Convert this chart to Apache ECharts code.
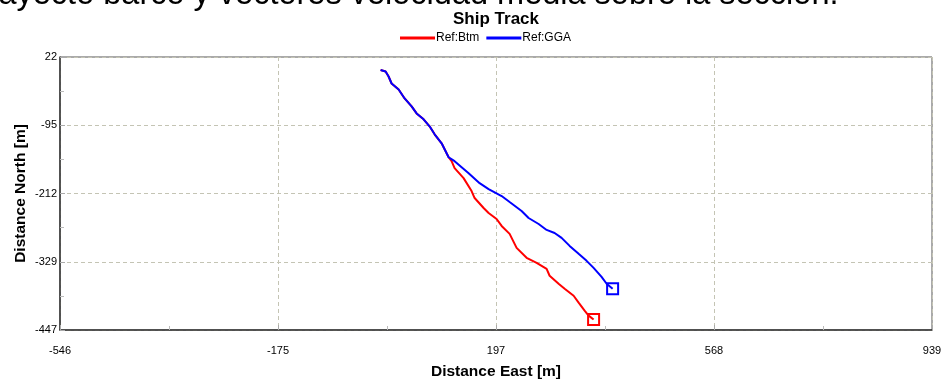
<!DOCTYPE html>
<html>
<head>
<meta charset="utf-8">
<script src="https://cdn.jsdelivr.net/npm/echarts@6/dist/echarts.min.js"></script>
<style>
html,body{margin:0;padding:0;background:#fff;}
#chart{width:946px;height:383px;}
</style>
</head>
<body>
<div id="chart"></div>
<script>
// Tick labels as printed on the axes
const xTickLabels = ['-546', '-175', '197', '568', '939'];
const yTickLabels = ['-447', '-329', '-212', '-95', '22'];

// Axis extents (data units)
const xExtent = [-546, 939];
const yExtent = [-446.6, 22.4];

// Series names
const seriesNames = ['Ref:Btm', 'Ref:GGA'];

// Ref:Btm track (East, North) in metres
const btmEast = [0, 8.5, 13.6, 18.7, 30.7, 40.9, 52.8, 61.3, 73.2, 83.4, 92.0, 103.9, 112.4, 115.8,
  120.9, 126.0, 141.3, 154.9, 160.1, 175.4, 183.9, 197.5, 206.1, 219.7, 231.6, 248.6, 265.7, 282.7,
  287.8, 303.1, 313.4, 328.7, 337.2, 347.4, 354.2, 362.7];
const btmNorth = [0, -2.6, -11.1, -23.1, -33.4, -48.8, -62.5, -74.5, -84.7, -96.7, -110.4, -125.8, -142.9, -149.8,
  -156.6, -168.6, -185.7, -207.9, -219.9, -237.0, -245.6, -255.9, -267.8, -281.5, -305.5, -322.6, -331.2, -341.5,
  -353.4, -367.1, -375.7, -387.7, -399.6, -413.3, -421.9, -428.7];

// Ref:GGA track (East, North) in metres
const ggaEast = [0, 8.5, 13.6, 18.7, 30.7, 40.9, 52.8, 61.3, 73.2, 83.4, 92.0, 103.9, 112.4, 115.8,
  126.0, 149.9, 168.6, 183.9, 206.1, 219.7, 240.1, 252.0, 269.1, 282.7, 296.3, 308.2, 321.9, 337.2,
  350.8, 362.7, 376.3, 384.9, 395.1];
const ggaNorth = [0, -2.6, -11.1, -23.1, -33.4, -48.8, -62.5, -74.5, -84.7, -96.7, -110.4, -125.8, -142.9, -149.8,
  -156.6, -177.2, -194.3, -204.5, -216.5, -226.8, -242.2, -254.2, -264.5, -274.7, -279.9, -288.4, -302.1, -315.8,
  -327.8, -339.8, -355.2, -367.1, -375.7];

const colors = ['#ff0000', '#0000ff'];

function buildData(east, north, color) {
  return east.map(function (e, i) {
    if (i === east.length - 1) {
      return {
        value: [e, north[i]],
        symbol: 'rect',
        symbolSize: 11,
        itemStyle: { color: 'rgba(255,255,255,0)', borderColor: color, borderWidth: 2 }
      };
    }
    return { value: [e, north[i]], symbol: 'none' };
  });
}

const FONT = "'Liberation Sans', Arial, sans-serif";
const gridLine = { show: true, lineStyle: { color: '#c4c4b4', width: 1, type: [4, 3] } };

const chart = echarts.init(document.getElementById('chart'), null, { renderer: 'canvas' });
chart.setOption({
  animation: false,
  backgroundColor: '#ffffff',
  graphic: [{
    type: 'text',
    left: -31,
    top: -21,
    style: {
      text: 'Trayecto barco y vectores velocidad media sobre la sección.',
      font: "normal 32.5px 'Liberation Sans', Arial, sans-serif",
      fill: '#000'
    }
  }],
  title: {
    text: 'Ship Track',
    left: 496,
    top: 11,
    textAlign: 'center',
    padding: 0,
    textStyle: { fontFamily: FONT, fontWeight: 'bold', fontSize: 17, color: '#000' }
  },
  legend: {
    left: 400,
    top: 32,
    padding: 0,
    itemGap: 7,
    itemWidth: 35,
    itemHeight: 3,
    icon: 'rect',
    data: seriesNames,
    textStyle: { fontFamily: FONT, fontSize: 12, color: '#000', padding: [0, 0, 0, -4] }
  },
  grid: { left: 60, right: 14, top: 57, bottom: 53, show: true, borderColor: '#555', borderWidth: 1,
    containLabel: false, outerBoundsMode: 'none' },
  xAxis: [
    { type: 'value', min: xExtent[0], max: xExtent[1], show: false, position: 'top' },
    {
      type: 'value', min: 0, max: xTickLabels.length - 1, interval: 1, position: 'bottom',
      name: 'Distance East [m]', nameLocation: 'middle', nameGap: 34, nameMoveOverlap: false,
      nameTextStyle: { fontFamily: FONT, fontWeight: 'bold', fontSize: 15.5, color: '#000' },
      axisLine: { show: true, onZero: false, lineStyle: { color: '#333', width: 1.5 } },
      axisTick: { show: true, inside: true, length: 5, lineStyle: { color: '#aaa' } },
      minorTick: { show: true, splitNumber: 2, length: 4, lineStyle: { color: '#bbb' } },
      axisLabel: { margin: 15, fontFamily: FONT, fontSize: 11, color: '#000', formatter: function (v) { return xTickLabels[Math.round(v)]; } },
      splitLine: gridLine
    }
  ],
  yAxis: [
    { type: 'value', min: yExtent[0], max: yExtent[1], show: false, position: 'right' },
    {
      type: 'value', min: 0, max: yTickLabels.length - 1, interval: 1, position: 'left',
      name: 'Distance North [m]', nameLocation: 'middle', nameGap: 31, nameRotate: 90, nameMoveOverlap: false,
      nameTextStyle: { fontFamily: FONT, fontWeight: 'bold', fontSize: 15.5, color: '#000' },
      axisLine: { show: true, onZero: false, lineStyle: { color: '#333', width: 1.5 } },
      axisTick: { show: true, inside: true, length: 5, lineStyle: { color: '#aaa' } },
      minorTick: { show: true, splitNumber: 2, length: 4, lineStyle: { color: '#bbb' } },
      axisLabel: { margin: 3, fontFamily: FONT, fontSize: 11, color: '#000', formatter: function (v) { return yTickLabels[Math.round(v)]; } },
      splitLine: gridLine
    }
  ],
  series: [
    {
      name: seriesNames[0], type: 'line', xAxisIndex: 0, yAxisIndex: 0,
      showSymbol: true, showAllSymbol: true, symbol: 'none',
      color: colors[0],
      lineStyle: { color: colors[0], width: 2 },
      data: buildData(btmEast, btmNorth, colors[0])
    },
    {
      name: seriesNames[1], type: 'line', xAxisIndex: 0, yAxisIndex: 0,
      showSymbol: true, showAllSymbol: true, symbol: 'none',
      color: colors[1],
      lineStyle: { color: colors[1], width: 2 },
      data: buildData(ggaEast, ggaNorth, colors[1])
    }
  ]
});
</script>
</body>
</html>
